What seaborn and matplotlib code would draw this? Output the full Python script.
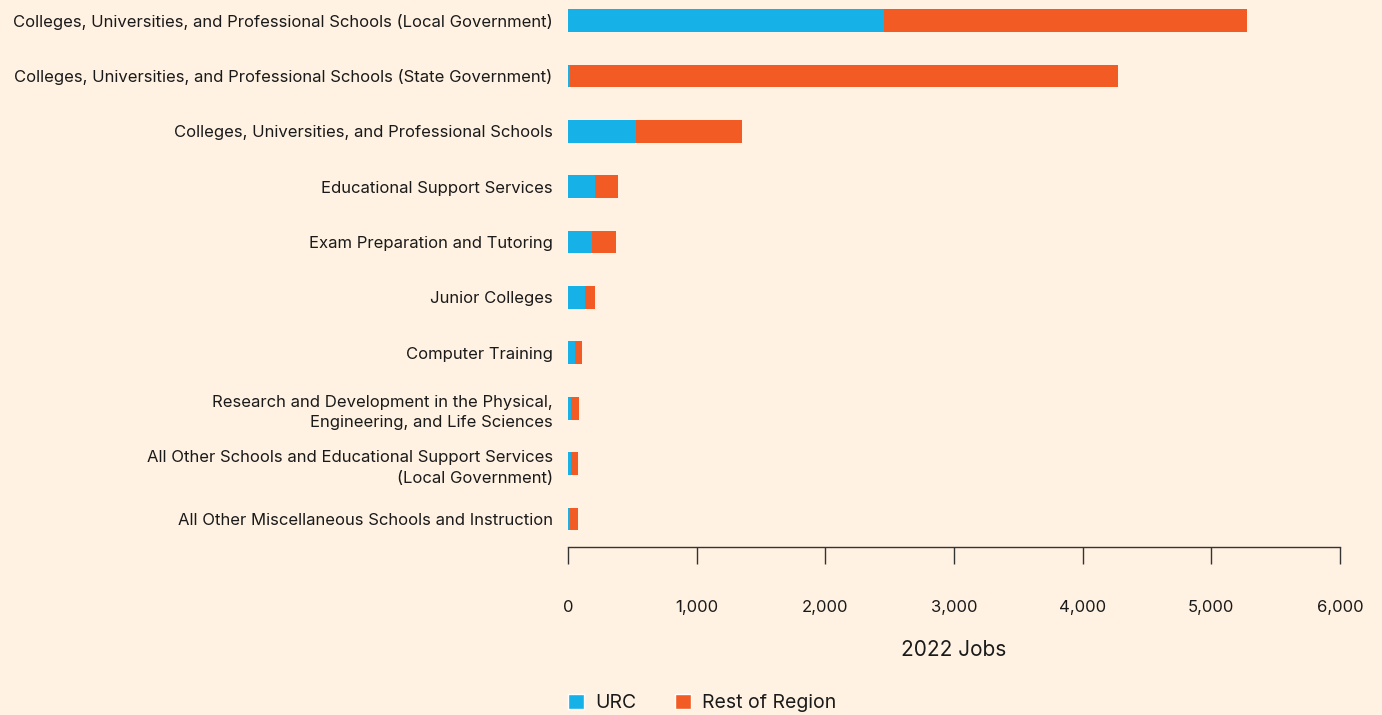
import matplotlib
matplotlib.use("Agg")
import matplotlib.pyplot as plt
import seaborn as sns
import pandas as pd
from matplotlib.patches import Patch
from matplotlib.ticker import FuncFormatter

categories = [
    "Colleges, Universities, and Professional Schools (Local Government)",
    "Colleges, Universities, and Professional Schools (State Government)",
    "Colleges, Universities, and Professional Schools",
    "Educational Support Services",
    "Exam Preparation and Tutoring",
    "Junior Colleges",
    "Computer Training",
    "Research and Development in the Physical,\nEngineering, and Life Sciences",
    "All Other Schools and Educational Support Services\n(Local Government)",
    "All Other Miscellaneous Schools and Instruction",
]
urc = [2454, 15, 531, 210, 184, 132, 54, 23, 23, 15]
rest_of_region = [2820, 4263, 822, 179, 189, 78, 55, 62, 55, 63]

BG = "#FFF2E2"
BLUE = "#16B1E6"
ORANGE = "#F25C24"
TEXT = "#1a1a1a"

df = pd.DataFrame({"category": categories, "urc": urc, "rest": rest_of_region})
df["total"] = df["urc"] + df["rest"]

sns.set_theme(style="white")
plt.rcParams["font.family"] = ["Inter", "DejaVu Sans"]

fig = plt.figure(figsize=(13.82, 7.15), dpi=100, facecolor=BG)
ax = fig.add_axes([568 / 1382, 1 - 547 / 715, (1340 - 568) / 1382, 547 / 715])
ax.set_facecolor(BG)

# Stacked bars: full total in orange, URC share drawn over it in blue
sns.barplot(data=df, y="category", x="total", color=ORANGE, width=0.41,
            orient="h", ax=ax, saturation=1, linewidth=0)
sns.barplot(data=df, y="category", x="urc", color=BLUE, width=0.41,
            orient="h", ax=ax, saturation=1, linewidth=0)

ax.set_xlim(0, 6000)
ax.set_ylim(9.505, -0.37)
ax.set_xticks(range(0, 6001, 1000))
ax.xaxis.set_major_formatter(FuncFormatter(lambda v, p: f"{int(v):,}"))
ax.tick_params(axis="x", bottom=True, direction="out", length=12, width=1,
               color="#333333", pad=26, labelsize=12, labelcolor=TEXT)
ax.tick_params(axis="y", left=False, length=0, pad=11, labelsize=12, labelcolor=TEXT)
for lbl in ax.get_yticklabels():
    lbl.set_horizontalalignment("right")
    lbl.set_multialignment("right")
    lbl.set_linespacing(1.45)

for side in ["top", "right", "left"]:
    ax.spines[side].set_visible(False)
ax.spines["bottom"].set_color("#333333")
ax.spines["bottom"].set_linewidth(1)

ax.set_ylabel("")
ax.set_xlabel("2022 Jobs", fontsize=15, color=TEXT, labelpad=18)

handles = [Patch(facecolor=BLUE, label="URC"), Patch(facecolor=ORANGE, label="Rest of Region")]
fig.legend(handles=handles, loc="center left", bbox_to_anchor=(568 / 1382, 1 - 703 / 715),
           ncol=2, frameon=False, fontsize=14, handlelength=0.82, handleheight=0.82,
           handletextpad=0.57, columnspacing=2.0, borderpad=0, borderaxespad=0,
           labelcolor=TEXT)

fig.savefig("out.png", dpi=100, facecolor=BG)
